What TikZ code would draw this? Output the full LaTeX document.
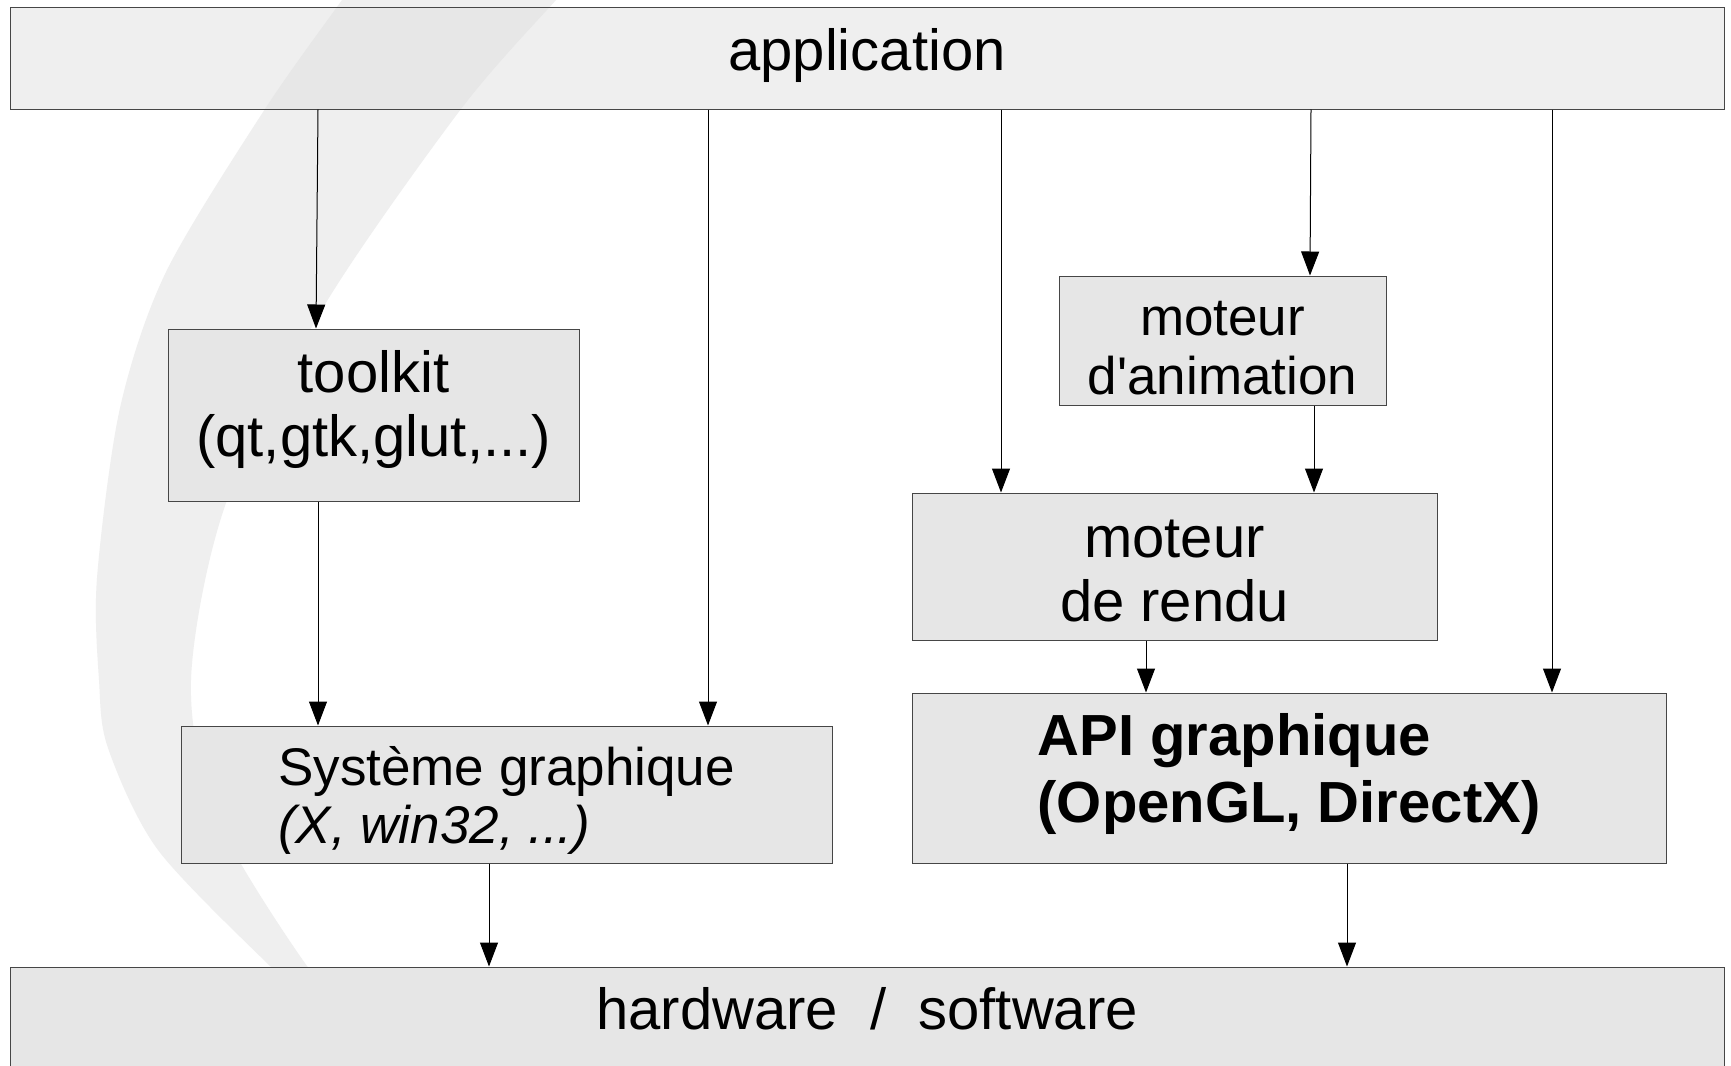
\documentclass[tikz,border=0pt]{standalone}
\usepackage{fontspec}
\setmainfont{Liberation Sans}[Ligatures=TeXOff]
\usetikzlibrary{arrows.meta}
\definecolor{boxfill}{RGB}{230,230,230}
\definecolor{appfill}{RGB}{224,224,224}
\definecolor{swooshc}{RGB}{239,239,239}
\definecolor{edgec}{RGB}{70,70,70}
\begin{document}
\begin{tikzpicture}[x=1pt,y=-1pt,
  box/.style={draw=edgec, line width=1pt, fill=boxfill, rectangle, inner sep=0pt},
  lbl/.style={inner sep=0pt, align=center},
  arr/.style={line width=1pt, -{Triangle[length=24pt,width=18pt]}},
  fbig/.style={font=\fontsize{58}{64}\selectfont},
  fmid/.style={font=\fontsize{53}{59}\selectfont},
  fsys/.style={font=\fontsize{53}{58}\selectfont},
  fapi/.style={font=\fontsize{58}{67}\selectfont\bfseries}]
\useasboundingbox (0,0) rectangle (1731,1065);
\clip (0,0) rectangle (1731,1065);
\fill[white] (0,0) rectangle (1731,1065);
% background swoosh
\fill[swooshc] plot[smooth] coordinates {(356,-20) (342,0) (265,109) (166,272) (120,408) (97,578) (99,680) (108,748) (158,850) (270,966) (305,995)}
  -- plot[smooth] coordinates {(345,995) (307,966) (216,816) (191,680) (226,503) (324,306) (461,109) (556,0) (575,-20)} -- cycle;
% boxes
\node[box, fill=appfill, fill opacity=0.5, draw opacity=1, minimum width=1714pt, minimum height=101pt] (app) at (867,58.5) {};
\node[box, minimum width=411pt, minimum height=172pt] (toolkit) at (373.5,415) {};
\node[box, minimum width=651pt, minimum height=137pt] (sys) at (506.5,794.5) {};
\node[box, minimum width=327pt, minimum height=129pt] (anim) at (1222.5,340.5) {};
\node[box, minimum width=525pt, minimum height=147pt] (rendu) at (1174.5,566.5) {};
\node[box, minimum width=754pt, minimum height=170pt] (api) at (1289,778) {};
\node[box, minimum width=1714pt, minimum height=113pt] (hw) at (867,1023.5) {};
% texts
\node[lbl, fbig] (appT) at (867,55.5) {application};
\node[lbl, fbig] (toolkitT) at (373.5,409.5) {toolkit\\(qt,gtk,glut,...)};
\node[lbl, fsys, align=left] (sysT) at (506.5,800) {Système graphique\\\textit{(X, win32, ...)}};
\node[lbl, fmid] (animT) at (1222.5,348) {moteur\\d'animation};
\node[lbl, fbig] (renduT) at (1174.5,571) {moteur\\de rendu};
\node[lbl, fapi, align=left] (apiT) at (1289,774) {API graphique\\(OpenGL, DirectX)};
\node[lbl, fbig, anchor=base] (hwT) at (867,1029) {hardware\ \ /\ \ software};
% connectors
\draw[arr] (app.south -| 318,0) -- (toolkit.north -| 316,0);
\draw[arr] (app.south -| 708,0) -- (sys.north -| 708,0);
\draw[arr] (toolkit.south -| 318,0) -- (sys.north -| 318,0);
\draw[arr] (app.south -| 1001,0) -- (rendu.north -| 1001,0);
\draw[arr] (app.south -| 1311,0) -- (anim.north -| 1310,0);
\draw[arr] (anim.south -| 1314,0) -- (rendu.north -| 1314,0);
\draw[arr] (app.south -| 1552,0) -- (api.north -| 1552,0);
\draw[arr] (rendu.south -| 1146,0) -- (api.north -| 1146,0);
\draw[arr] (sys.south -| 489,0) -- (hw.north -| 489,0);
\draw[arr] (api.south -| 1347,0) -- (hw.north -| 1347,0);
\end{tikzpicture}
\end{document}
